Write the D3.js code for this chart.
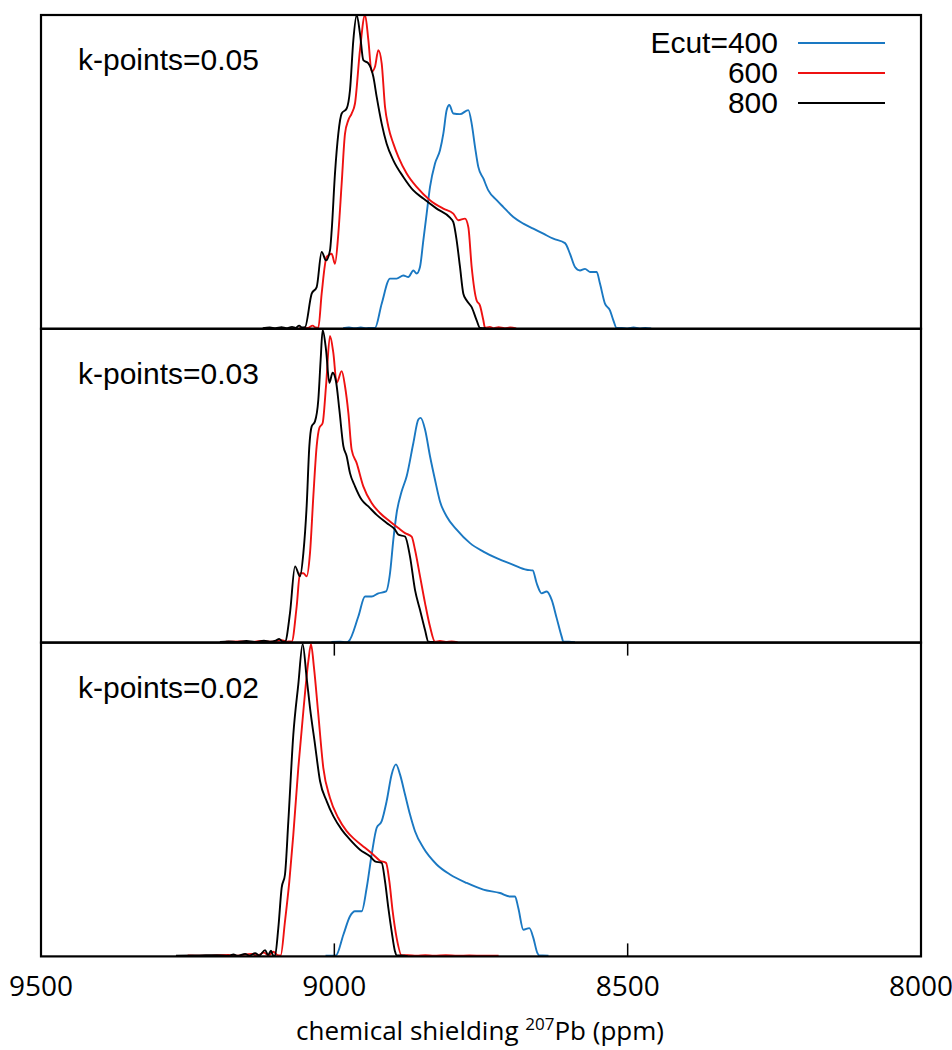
<!DOCTYPE html>
<html>
<head>
<meta charset="utf-8">
<script src="https://cdn.jsdelivr.net/npm/d3@7"></script>
<style>
  body { margin: 0; background: #fff; }
</style>
</head>
<body>
<script>
// Constants

const width = 952;
const height = 1050;
const margin = { top: 15, right: 31, left: 41 };
const panelH = 313.8;

// Data: [chemical shielding (ppm), normalised intensity]

const kLabels = ['k-points=0.05', 'k-points=0.03', 'k-points=0.02'];
const ecutLabels = ['Ecut=400', '600', '800'];
const xTicks = [9500, 9000, 8500, 8000];

const k005_e400 = [
	[8985, 0.002], [8975, 0.004], [8965, 0.002], [8955, 0.004], [8945, 0.002], [8938, 0.003],
	[8930.7, 0.003], [8919.3, 0.08], [8905.1, 0.16], [8893.8, 0.16], [8882.4, 0.17], [8873.9, 0.165],
	[8865.3, 0.186], [8859.7, 0.176], [8854.0, 0.197], [8848.3, 0.282], [8842.6, 0.367], [8836.9, 0.452],
	[8828.4, 0.527], [8819.9, 0.569], [8814.2, 0.622], [8808.5, 0.697], [8804.0, 0.713], [8797.2, 0.686],
	[8785.8, 0.684], [8771.6, 0.697], [8765.9, 0.654], [8760.2, 0.58], [8754.6, 0.516], [8746.0, 0.479],
	[8737.5, 0.441], [8723.3, 0.41], [8711.9, 0.388], [8694.9, 0.356], [8677.8, 0.335], [8660.8, 0.319],
	[8643.7, 0.303], [8626.7, 0.287], [8606.8, 0.273], [8598.3, 0.239], [8589.8, 0.197], [8581.3, 0.186],
	[8572.7, 0.191], [8564.2, 0.181], [8552.8, 0.181], [8547.2, 0.144], [8538.7, 0.08], [8530.2, 0.059],
	[8524.4, 0.027], [8518.8, 0.003],
	[8510, 0.003], [8500, 0.001], [8490, 0.004], [8480, 0.001], [8470, 0.003], [8460, 0.001]
];
const k005_e600 = [
	[9060, 0.002], [9045, 0.003], [9037, 0.01], [9032, 0.004],
	[9027.3, 0.003], [9021.6, 0.112], [9013.1, 0.229], [9004.5, 0.239], [8998.9, 0.207], [8993.2, 0.303],
	[8987.5, 0.463], [8981.8, 0.622], [8976.1, 0.665], [8970.5, 0.686], [8964.8, 0.718], [8956.3, 0.888],
	[8947.7, 1.0], [8942.0, 0.92], [8936.4, 0.819], [8930.7, 0.835], [8925.0, 0.888], [8919.3, 0.846],
	[8913.6, 0.707], [8907.9, 0.644], [8899.4, 0.59], [8890.9, 0.548], [8876.7, 0.495], [8859.7, 0.452],
	[8837.0, 0.41], [8814.2, 0.383], [8797.2, 0.367], [8788.6, 0.346], [8777.3, 0.351], [8771.6, 0.324],
	[8765.9, 0.197], [8757.4, 0.09], [8751.7, 0.074], [8746.0, 0.027], [8743.2, 0.003],
	[8735, 0.006], [8728, 0.002], [8720, 0.005], [8710, 0.002], [8700, 0.004], [8690, 0.001]
];
const k005_e800 = [
	[9122, 0.002], [9110, 0.004], [9100, 0.002], [9090, 0.005], [9082, 0.002], [9072, 0.006],
	[9066, 0.003], [9060, 0.01], [9055, 0.004],
	[9050.0, 0.005], [9038.6, 0.112], [9030.1, 0.133], [9021.6, 0.245], [9014.2, 0.218], [9007.4, 0.25],
	[9004.5, 0.314], [8998.9, 0.495], [8993.2, 0.622], [8987.5, 0.686], [8979.0, 0.702], [8973.3, 0.761],
	[8967.6, 0.92], [8961.9, 1.0], [8956.3, 0.941], [8950.6, 0.856], [8942.0, 0.846], [8933.5, 0.803],
	[8927.8, 0.739], [8919.3, 0.654], [8910.8, 0.59], [8899.4, 0.537], [8882.4, 0.484], [8865.3, 0.441],
	[8848.3, 0.415], [8825.6, 0.383], [8802.8, 0.354], [8797.2, 0.34], [8791.5, 0.282], [8785.8, 0.197],
	[8780.1, 0.112], [8774.4, 0.09], [8765.9, 0.069], [8757.4, 0.027], [8751.7, 0.003], [8742, 0.002]
];

const k003_e400 = [
	[9005, 0.002], [8990, 0.003], [8980, 0.001],
	[8976.1, 0.003], [8959.1, 0.083], [8947.7, 0.147], [8936.4, 0.147], [8925.0, 0.157], [8911.9, 0.163],
	[8905.1, 0.221], [8899.4, 0.328], [8893.8, 0.413], [8885.2, 0.482], [8876.7, 0.53], [8865.3, 0.636],
	[8856.8, 0.711], [8852.8, 0.716], [8845.4, 0.679], [8836.9, 0.594], [8828.4, 0.519], [8819.9, 0.45],
	[8808.5, 0.402], [8791.5, 0.36], [8768.7, 0.317], [8746.0, 0.29], [8723.3, 0.269], [8694.9, 0.248],
	[8672.2, 0.232], [8661.9, 0.23], [8655.1, 0.189], [8646.6, 0.157], [8638.0, 0.163], [8629.5, 0.136],
	[8621.0, 0.078], [8612.5, 0.019], [8609.7, 0.003], [8600, 0.003], [8590, 0.001]
];
const k003_e600 = [
	[9185, 0.003], [9160, 0.004], [9140, 0.002], [9125, 0.005], [9105, 0.003], [9090, 0.008],
	[9080, 0.003], [9076, 0.004],
	[9072.7, 0.003], [9064.2, 0.115], [9058.5, 0.221], [9052.8, 0.221], [9047.2, 0.211], [9041.5, 0.285],
	[9035.8, 0.466], [9030.1, 0.626], [9025.6, 0.684], [9019.9, 0.7], [9014.2, 0.817], [9007.4, 0.977],
	[9001.7, 0.923], [8996.0, 0.828], [8987.5, 0.865], [8981.8, 0.817], [8976.1, 0.732], [8970.5, 0.615],
	[8961.9, 0.572], [8950.6, 0.498], [8936.4, 0.445], [8922.2, 0.413], [8905.1, 0.386], [8890.9, 0.365],
	[8879.5, 0.349], [8868.2, 0.338], [8862.5, 0.296], [8853.9, 0.211], [8845.4, 0.126], [8836.9, 0.051],
	[8828.4, 0.003], [8820, 0.005], [8810, 0.002], [8800, 0.004], [8790, 0.001]
];
const k003_e800 = [
	[9195, 0.002], [9180, 0.004], [9165, 0.002], [9150, 0.005], [9135, 0.002], [9120, 0.006],
	[9110, 0.003], [9100, 0.006], [9094, 0.012], [9089, 0.004],
	[9084.1, 0.003], [9075.6, 0.094], [9067.0, 0.243], [9058.5, 0.211], [9052.8, 0.285], [9047.2, 0.434],
	[9042.6, 0.626], [9038.6, 0.689], [9033.0, 0.705], [9027.3, 0.774], [9023.3, 0.902], [9019.9, 0.996],
	[9014.2, 0.934], [9008.5, 0.828], [9002.9, 0.86], [8997.2, 0.833], [8991.5, 0.743], [8984.6, 0.626],
	[8979.0, 0.594], [8973.3, 0.54], [8964.8, 0.498], [8953.4, 0.455], [8942.0, 0.434], [8927.8, 0.407],
	[8910.8, 0.381], [8896.6, 0.36], [8890.9, 0.344], [8879.5, 0.338], [8871.0, 0.274], [8862.5, 0.168],
	[8853.9, 0.104], [8845.4, 0.04], [8839.8, 0.003], [8830, 0.002]
];

const k002_e400 = [
	[9015, 0.002], [9005, 0.002],
	[8997.2, 0.003], [8984.6, 0.069], [8973.3, 0.128], [8964.8, 0.144], [8953.4, 0.144], [8944.9, 0.218],
	[8936.4, 0.324], [8927.8, 0.41], [8919.3, 0.431], [8910.8, 0.495], [8902.3, 0.58], [8894.9, 0.612],
	[8888.1, 0.58], [8879.5, 0.516], [8871.0, 0.452], [8862.5, 0.399], [8848.3, 0.346], [8825.6, 0.293],
	[8802.8, 0.261], [8774.4, 0.234], [8746.0, 0.213], [8717.6, 0.202], [8700.6, 0.191], [8692.0, 0.191],
	[8686.4, 0.154], [8677.8, 0.085], [8667.6, 0.09], [8660.8, 0.059], [8654.0, 0.011], [8650.6, 0.003],
	[8645, 0.003], [8635, 0.002]
];
const k002_e600 = [
	[9250, 0.003], [9210, 0.002], [9180, 0.005], [9170, 0.002], [9140, 0.008], [9132, 0.002],
	[9120, 0.012], [9112, 0.003], [9104, 0.015], [9097, 0.004],
	[9091.5, 0.003], [9084.1, 0.112], [9076.7, 0.239], [9069.9, 0.388], [9061.4, 0.601], [9052.8, 0.782],
	[9044.3, 0.941], [9039.8, 0.995], [9034.7, 0.92], [9027.3, 0.771], [9018.8, 0.601], [9007.4, 0.505],
	[8993.2, 0.441], [8979.0, 0.399], [8964.8, 0.372], [8947.7, 0.346], [8933.5, 0.324], [8922.2, 0.305],
	[8911.9, 0.298], [8906.2, 0.239], [8900.6, 0.144], [8893.8, 0.059], [8885.2, 0.003],
	[8875, 0.004], [8860, 0.002], [8845, 0.004], [8830, 0.002], [8810, 0.004], [8790, 0.002],
	[8770, 0.003], [8745, 0.002], [8720, 0.002]
];
const k002_e800 = [
	[9270, 0.002], [9230, 0.003], [9200, 0.004], [9180, 0.002], [9172, 0.006], [9165, 0.002],
	[9152, 0.008], [9145, 0.002], [9135, 0.01], [9128, 0.003], [9118, 0.02], [9113, 0.004],
	[9108, 0.018], [9104, 0.002],
	[9101.1, 0.003], [9095.5, 0.09], [9089.8, 0.218], [9084.1, 0.261], [9078.4, 0.431], [9069.9, 0.707],
	[9061.4, 0.867], [9054.0, 0.995], [9047.2, 0.888], [9041.5, 0.793], [9033.0, 0.676], [9024.4, 0.559],
	[9013.1, 0.495], [9001.7, 0.447], [8987.5, 0.404], [8973.3, 0.372], [8956.3, 0.34], [8939.2, 0.319],
	[8930.7, 0.303], [8919.3, 0.298], [8913.6, 0.239], [8907.9, 0.154], [8902.3, 0.08], [8896.6, 0.016],
	[8893.8, 0.003], [8885, 0.003], [8875, 0.001]
];

const colors = ['#1a78c2', '#ee1111', '#000000'];

const panels = [
	[k005_e400, k005_e600, k005_e800],
	[k003_e400, k003_e600, k003_e800],
	[k002_e400, k002_e600, k002_e800]
];

// Scales

const x = d3
	.scaleLinear()
	.domain([9500, 8000])
	.range([margin.left, width - margin.right]);

const y = d3.scaleLinear().domain([0, 1]).range([panelH, 0]);

const line = d3
	.line()
	.x((d) => x(d[0]))
	.y((d) => y(d[1]))
	.curve(d3.curveMonotoneX);

// Setup svg

const svg = d3
	.select('body')
	.append('svg')
	.attr('width', width)
	.attr('height', height)
	.attr('xmlns', 'http://www.w3.org/2000/svg');

panels.forEach((series, i) => {
	const g = svg
		.append('g')
		.attr('transform', `translate(0,${margin.top + i * panelH})`);

	g.append('g')
		.attr('fill', 'none')
		.attr('stroke-width', 1.9)
		.attr('stroke-linejoin', 'round')
		.selectAll('path')
		.data(series)
		.join('path')
		.attr('stroke', (d, j) => colors[j])
		.attr('d', line);

	g.append('rect')
		.attr('x', x.range()[0])
		.attr('y', 0)
		.attr('width', x.range()[1] - x.range()[0])
		.attr('height', panelH)
		.attr('fill', 'none')
		.attr('stroke', '#000')
		.attr('stroke-width', 2.2);

	g.append('text')
		.attr('x', 78)
		.attr('y', 55)
		.attr('font-family', 'Liberation Sans, Arial, sans-serif')
		.attr('font-size', 30)
		.attr('fill', '#000')
		.text(kLabels[i]);

	// only the bottom panel carries tics
	if (i === panels.length - 1) {
		const inner = xTicks.slice(1, -1);
		g.append('g')
			.attr('stroke', '#000')
			.attr('stroke-width', 1.5)
			.call((g) =>
				g
					.selectAll('line.b')
					.data(inner)
					.join('line')
					.attr('x1', (d) => x(d))
					.attr('x2', (d) => x(d))
					.attr('y1', panelH)
					.attr('y2', panelH - 13)
			)
			.call((g) =>
				g
					.selectAll('line.t')
					.data(inner)
					.join('line')
					.attr('x1', (d) => x(d))
					.attr('x2', (d) => x(d))
					.attr('y1', 0)
					.attr('y2', 13)
			);
	}
});

// Legend

const legend = svg
	.append('g')
	.attr('font-family', 'Liberation Sans, Arial, sans-serif')
	.attr('font-size', 30)
	.selectAll('g')
	.data(ecutLabels)
	.join('g')
	.attr('transform', (d, i) => `translate(0,${53 + i * 30})`);

legend
	.append('text')
	.attr('x', 778)
	.attr('text-anchor', 'end')
	.attr('fill', '#000')
	.text((d) => d);

legend
	.append('line')
	.attr('x1', 798)
	.attr('x2', 885)
	.attr('y1', -10)
	.attr('y2', -10)
	.attr('stroke', (d, i) => colors[i])
	.attr('stroke-width', 1.9);

// X axis labels

const bottom = margin.top + panels.length * panelH;

svg
	.append('g')
	.attr('font-family', 'Open Sans, sans-serif')
	.attr('font-size', 28)
	.attr('text-anchor', 'middle')
	.selectAll('text')
	.data(xTicks)
	.join('text')
	.attr('x', (d) => x(d))
	.attr('y', bottom + 40)
	.text((d) => d);

const title = svg
	.append('text')
	.attr('x', 480)
	.attr('y', bottom + 84)
	.attr('font-family', 'Open Sans, sans-serif')
	.attr('font-size', 26)
	.attr('text-anchor', 'middle');

title.append('tspan').text('chemical shielding ');
title.append('tspan').attr('font-size', 17).attr('dy', -10).text('207');
title.append('tspan').attr('dy', 10).text('Pb (ppm)');
</script>
</body>
</html>
